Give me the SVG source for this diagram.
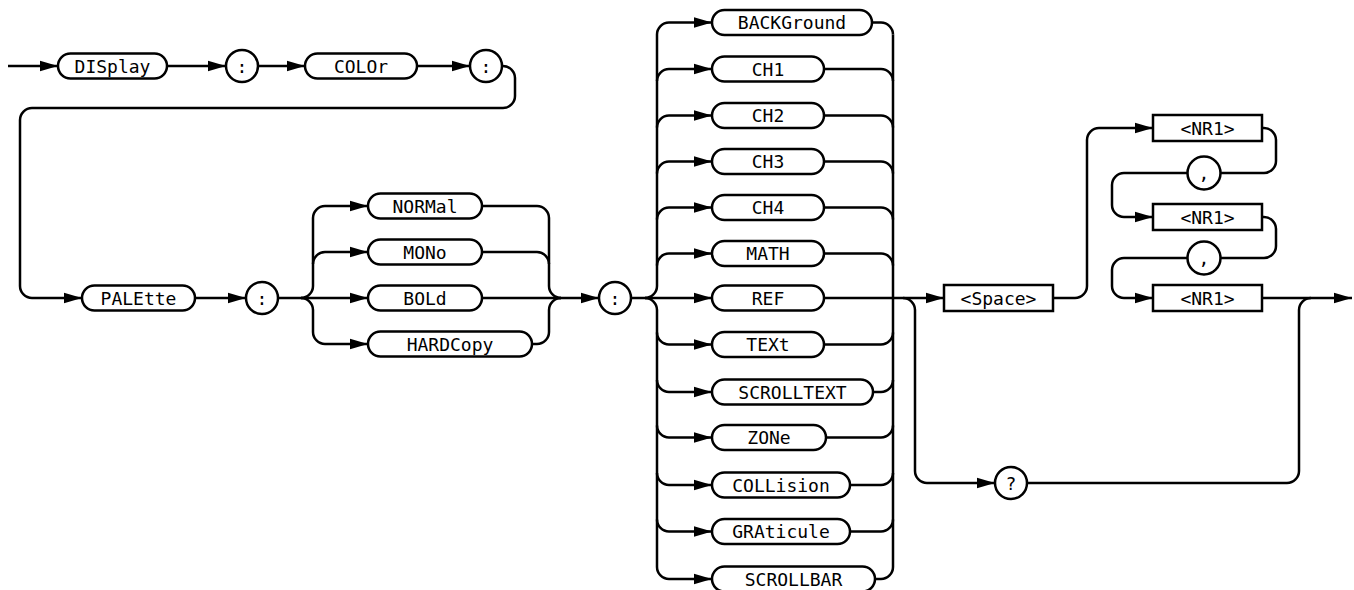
<svg xmlns="http://www.w3.org/2000/svg" width="1354" height="590" viewBox="0 0 1354 590">
<defs>
<marker id="ah" markerUnits="userSpaceOnUse" markerWidth="19" markerHeight="12" viewBox="0 0 19 12" refX="18.5" refY="6" orient="auto"><path d="M0,0.5 L18.5,6 L0,11.5 Z" fill="#000"/></marker>
<style>
.ln{fill:none;stroke:#000;stroke-width:2.5}
.ar{fill:none;stroke:#000;stroke-width:2.5;marker-end:url(#ah)}
.bx{fill:#fff;stroke:#000;stroke-width:2.5}
.t{font-family:'DejaVu Sans Mono',monospace;font-size:18px;text-anchor:middle;fill:#000}
</style>
</defs>
<rect width="1354" height="590" fill="#fff"/>
<g id="connectors">
<path class="ar" d="M8,66 H58"/>
<path class="ar" d="M167,66 H226"/>
<path class="ar" d="M258,66 H305"/>
<path class="ar" d="M417,66 H470"/>
<path class="ar" d="M502,66 H503 A12 12 0 0 1 515 78 V96 A12 12 0 0 1 503 108 H32 A12 12 0 0 0 20 120 V286 A12 12 0 0 0 32 298 H82"/>
<path class="ar" d="M195,298 H246"/>
<path class="ar" d="M278,298 H368"/>
<path class="ar" d="M301,298 A12 12 0 0 0 313 286 V218 A12 12 0 0 1 325 206 H368"/>
<path class="ar" d="M313,264 A12 12 0 0 1 325 252 H368"/>
<path class="ar" d="M301,298 A12 12 0 0 1 313 310 V332 A12 12 0 0 0 325 344 H368"/>
<path class="ln" d="M482,206 H537 A12 12 0 0 1 549 218 V286 A12 12 0 0 0 561 298"/>
<path class="ln" d="M482,252 H537 A12 12 0 0 1 549 264"/>
<path class="ln" d="M532,344 H537 A12 12 0 0 0 549 332 V310 A12 12 0 0 1 561 298"/>
<path class="ar" d="M482,298 H599"/>
<path class="ar" d="M631,298 H712"/>
<path class="ar" d="M645,298 A12 12 0 0 0 657 286 V34.5 A12 12 0 0 1 669 22.5 H712"/>
<path class="ar" d="M657,81 A12 12 0 0 1 669 69 H712"/>
<path class="ar" d="M657,127.5 A12 12 0 0 1 669 115.5 H712"/>
<path class="ar" d="M657,173.5 A12 12 0 0 1 669 161.5 H712"/>
<path class="ar" d="M657,219.5 A12 12 0 0 1 669 207.5 H712"/>
<path class="ar" d="M657,265.5 A12 12 0 0 1 669 253.5 H712"/>
<path class="ar" d="M645,298 A12 12 0 0 1 657 310 V567 A12 12 0 0 0 669 579 H712"/>
<path class="ar" d="M657,332.5 A12 12 0 0 0 669 344.5 H712"/>
<path class="ar" d="M657,380 A12 12 0 0 0 669 392 H712"/>
<path class="ar" d="M657,425.5 A12 12 0 0 0 669 437.5 H712"/>
<path class="ar" d="M657,473 A12 12 0 0 0 669 485 H712"/>
<path class="ar" d="M657,519.5 A12 12 0 0 0 669 531.5 H712"/>
<path class="ln" d="M893,34.5 V567"/>
<path class="ln" d="M872,22.5 H881 A12 12 0 0 1 893 34.5"/>
<path class="ln" d="M824,69 H881 A12 12 0 0 1 893 81"/>
<path class="ln" d="M824,115.5 H881 A12 12 0 0 1 893 127.5"/>
<path class="ln" d="M824,161.5 H881 A12 12 0 0 1 893 173.5"/>
<path class="ln" d="M824,207.5 H881 A12 12 0 0 1 893 219.5"/>
<path class="ln" d="M824,253.5 H881 A12 12 0 0 1 893 265.5"/>
<path class="ln" d="M824,344.5 H881 A12 12 0 0 0 893 332.5"/>
<path class="ln" d="M873,392 H881 A12 12 0 0 0 893 380"/>
<path class="ln" d="M826,437.5 H881 A12 12 0 0 0 893 425.5"/>
<path class="ln" d="M850,485 H881 A12 12 0 0 0 893 473"/>
<path class="ln" d="M850,531.5 H881 A12 12 0 0 0 893 519.5"/>
<path class="ln" d="M875,579 H881 A12 12 0 0 0 893 567"/>
<path class="ar" d="M824,298 H944"/>
<path class="ar" d="M903,298 A12 12 0 0 1 915 310 V471 A12 12 0 0 0 927 483 H995"/>
<path class="ln" d="M1027,483 H1287 A12 12 0 0 0 1299 471 V310 A12 12 0 0 1 1311 298"/>
<path class="ar" d="M1053,298 H1075 A12 12 0 0 0 1087 286 V140 A12 12 0 0 1 1099 128 H1153"/>
<path class="ln" d="M1262,128 H1264 A12 12 0 0 1 1276 140 V161 A12 12 0 0 1 1264 173 H1220"/>
<path class="ar" d="M1188,173 H1124 A12 12 0 0 0 1112 185 V205 A12 12 0 0 0 1124 217 H1153"/>
<path class="ln" d="M1262,217 H1264 A12 12 0 0 1 1276 229 V246 A12 12 0 0 1 1264 258 H1220"/>
<path class="ar" d="M1188,258 H1124 A12 12 0 0 0 1112 270 V286 A12 12 0 0 0 1124 298 H1153"/>
<path class="ar" d="M1262,298 H1352"/>
</g>
<g id="n-display"><rect class="bx" x="58" y="53.5" width="109" height="25" rx="12.5"/><text class="t" x="112.5" y="72.5">DISplay</text></g>
<g id="n-colon1"><circle class="bx" cx="242" cy="66" r="16"/><text class="t" x="242" y="72.5">:</text></g>
<g id="n-color"><rect class="bx" x="305" y="53.5" width="112" height="25" rx="12.5"/><text class="t" x="361" y="72.5">COLOr</text></g>
<g id="n-colon2"><circle class="bx" cx="486" cy="66" r="16"/><text class="t" x="486" y="72.5">:</text></g>
<g id="n-palette"><rect class="bx" x="82" y="285.5" width="113" height="25" rx="12.5"/><text class="t" x="138.5" y="304.5">PALEtte</text></g>
<g id="n-colon3"><circle class="bx" cx="262" cy="298" r="16"/><text class="t" x="262" y="304.5">:</text></g>
<g id="n-normal"><rect class="bx" x="368" y="193.5" width="114" height="25" rx="12.5"/><text class="t" x="425" y="212.5">NORMal</text></g>
<g id="n-mono"><rect class="bx" x="368" y="239.5" width="114" height="25" rx="12.5"/><text class="t" x="425" y="258.5">MONo</text></g>
<g id="n-bold"><rect class="bx" x="368" y="285.5" width="114" height="25" rx="12.5"/><text class="t" x="425" y="304.5">BOLd</text></g>
<g id="n-hardcopy"><rect class="bx" x="368" y="331.5" width="164" height="25" rx="12.5"/><text class="t" x="450" y="350.5">HARDCopy</text></g>
<g id="n-colon4"><circle class="bx" cx="615" cy="298" r="16"/><text class="t" x="615" y="304.5">:</text></g>
<g id="n-background"><rect class="bx" x="712" y="10" width="160" height="25" rx="12.5"/><text class="t" x="792" y="29">BACKGround</text></g>
<g id="n-ch1"><rect class="bx" x="712" y="56.5" width="112" height="25" rx="12.5"/><text class="t" x="768" y="75.5">CH1</text></g>
<g id="n-ch2"><rect class="bx" x="712" y="103" width="112" height="25" rx="12.5"/><text class="t" x="768" y="122">CH2</text></g>
<g id="n-ch3"><rect class="bx" x="712" y="149" width="112" height="25" rx="12.5"/><text class="t" x="768" y="168">CH3</text></g>
<g id="n-ch4"><rect class="bx" x="712" y="195" width="112" height="25" rx="12.5"/><text class="t" x="768" y="214">CH4</text></g>
<g id="n-math"><rect class="bx" x="712" y="241" width="112" height="25" rx="12.5"/><text class="t" x="768" y="260">MATH</text></g>
<g id="n-ref"><rect class="bx" x="712" y="285.5" width="112" height="25" rx="12.5"/><text class="t" x="768" y="304.5">REF</text></g>
<g id="n-text"><rect class="bx" x="712" y="332" width="112" height="25" rx="12.5"/><text class="t" x="768" y="351">TEXt</text></g>
<g id="n-scrolltext"><rect class="bx" x="712" y="379.5" width="161" height="25" rx="12.5"/><text class="t" x="792.5" y="398.5">SCROLLTEXT</text></g>
<g id="n-zone"><rect class="bx" x="712" y="425" width="114" height="25" rx="12.5"/><text class="t" x="769" y="444">ZONe</text></g>
<g id="n-collision"><rect class="bx" x="712" y="472.5" width="138" height="25" rx="12.5"/><text class="t" x="781" y="491.5">COLLision</text></g>
<g id="n-graticule"><rect class="bx" x="712" y="519" width="138" height="25" rx="12.5"/><text class="t" x="781" y="538">GRAticule</text></g>
<g id="n-scrollbar"><rect class="bx" x="712" y="566.5" width="163" height="25" rx="12.5"/><text class="t" x="793.5" y="585.5">SCROLLBAR</text></g>
<g id="n-space"><rect class="bx" x="944" y="285" width="109" height="26"/><text class="t" x="998.5" y="304.5">&lt;Space&gt;</text></g>
<g id="n-query"><circle class="bx" cx="1011" cy="483" r="16"/><text class="t" x="1011" y="489.5">?</text></g>
<g id="n-nr1a"><rect class="bx" x="1153" y="115" width="109" height="26"/><text class="t" x="1207.5" y="134.5">&lt;NR1&gt;</text></g>
<g id="n-comma1"><circle class="bx" cx="1204" cy="173" r="16.5"/><text class="t" x="1204" y="179.5">,</text></g>
<g id="n-nr1b"><rect class="bx" x="1153" y="204" width="109" height="26"/><text class="t" x="1207.5" y="223.5">&lt;NR1&gt;</text></g>
<g id="n-comma2"><circle class="bx" cx="1204" cy="258" r="16.5"/><text class="t" x="1204" y="264.5">,</text></g>
<g id="n-nr1c"><rect class="bx" x="1153" y="285" width="109" height="26"/><text class="t" x="1207.5" y="304.5">&lt;NR1&gt;</text></g>
</svg>
